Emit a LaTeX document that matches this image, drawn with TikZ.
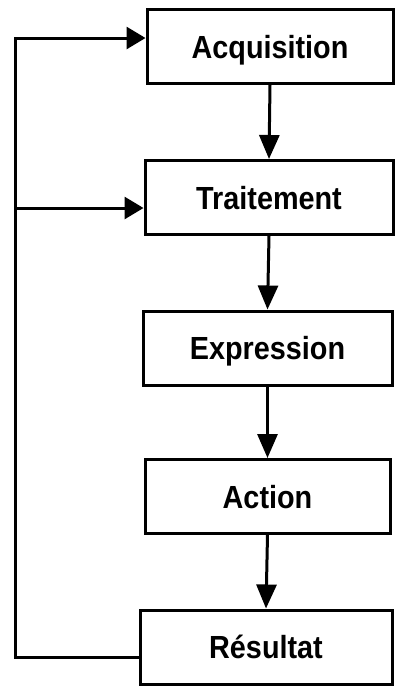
\documentclass[tikz,border=0pt]{standalone}
\usepackage{fontspec}
\setmainfont{Liberation Sans}[FakeStretch=0.9]
\usetikzlibrary{arrows.meta}
\begin{document}
\begin{tikzpicture}[x=1pt,y=1pt,
  stage/.style={draw, line width=3pt, minimum height=74pt, inner sep=0pt,
    text height=23pt, text depth=0pt, font=\fontsize{32}{36}\selectfont\bfseries},
  flow/.style={line width=3pt, -{Triangle[length=24pt,width=20pt]}},
  back/.style={line width=3pt, -{Triangle[length=19pt,width=22pt]}},
  plain/.style={line width=3pt}]
\useasboundingbox (0,0) rectangle (394,-686);

% processing chain
\node[stage, minimum width=246pt] (acq)   at (270,-46.5)  {Acquisition};
\node[stage, minimum width=248pt] (trait) at (269,-197.5) {Traitement};
\node[stage, minimum width=249pt] (expr)  at (267.5,-348) {Expression};
\node[stage, minimum width=245pt] (act)   at (267.5,-496.5) {Action};
\node[stage, minimum width=252pt] (res)   at (266,-647)   {Résultat};

\draw[flow] (acq.south)   -- (trait.north);
\draw[flow] (trait.south) -- (expr.north);
\draw[flow] (expr.south)  -- (act.north);
\draw[flow] (act.south)   -- (res.north);

% feedback loop from the result back to the first two stages
\coordinate (bl) at (15,-657);
\coordinate (tl) at (15,-38);
\coordinate (mid) at (15,-208);
\draw[plain, line join=miter] (bl -| res.west) -- (bl) -- (tl) -- ([xshift=-19pt]tl -| acq.west);
\draw[back] (tl) -- (tl -| acq.west);
\draw[back] (mid) -- (mid -| trait.west);
\end{tikzpicture}
\end{document}
